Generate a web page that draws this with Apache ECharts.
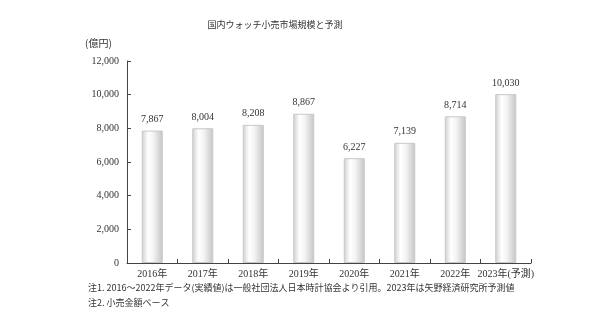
<!DOCTYPE html>
<html><head><meta charset="utf-8">
<script src="https://cdn.jsdelivr.net/npm/echarts@6/dist/echarts.min.js"></script>
<style>html,body{margin:0;padding:0;background:#fff}#c{width:600px;height:324px}</style>
</head><body><div id="c"></div>
<script>
const categories = ['2016年','2017年','2018年','2019年','2020年','2021年','2022年','2023年(予測)'];
const values = [7867, 8004, 8208, 8867, 6227, 7139, 8714, 10030];
const yTicks = [0, 2000, 4000, 6000, 8000, 10000, 12000];
const titleText = '国内ウォッチ小売市場規模と予測';
const unitText = '(億円)';
const notes = ['注1. 2016～2022年データ(実績値)は一般社団法人日本時計協会より引用。2023年は矢野経済研究所予測値', '注2. 小売金額ベース'];

const serif = '"Liberation Serif","Noto Sans CJK JP",serif';
const sans = '"Noto Sans CJK JP",sans-serif';
const chart = echarts.init(document.getElementById('c'), null, {renderer:'canvas'});
chart.setOption({
  animation:false,
  title:{text:titleText, left:270, top:15, textAlign:'center', textStyle:{fontFamily:sans, fontSize:9, fontWeight:'normal', color:'#333'}},
  graphic:[
    {type:'text', left:85, top:38, style:{text:unitText, font:'10px '+sans, fill:'#333'}},
    {type:'text', left:88, top:283, style:{text:notes[0], font:'9px '+sans, fill:'#333'}},
    {type:'text', left:88, top:298, style:{text:notes[1], font:'9px '+sans, fill:'#333'}}
  ],
  grid:{left:127, right:69, top:61, bottom:61},
  xAxis:{type:'category', data:categories,
    axisLine:{lineStyle:{color:'#444', width:1}},
    axisTick:{show:true, alignWithLabel:false, length:4, inside:true, lineStyle:{color:'#444'}},
    axisLabel:{fontFamily:serif, fontSize:10, color:'#333', margin:6, interval:0}},
  yAxis:{type:'value', min:0, max:12000, interval:2000,
    axisLine:{show:true, lineStyle:{color:'#444'}},
    axisTick:{show:true, inside:true, length:4, lineStyle:{color:'#444'}},
    splitLine:{show:false},
    axisLabel:{fontFamily:serif, fontSize:10, color:'#333', margin:8,
      formatter:v=>yTicks.includes(v)?v.toLocaleString('en-US'):''}},
  series:[{type:'bar', data:values, barWidth:21,
    itemStyle:{borderColor:'#c8c8c8', borderWidth:1,
      color:new echarts.graphic.LinearGradient(0,0,1,0,[
        {offset:0,color:'#cfcfcf'},{offset:0.3,color:'#ffffff'},{offset:0.55,color:'#f4f4f4'},{offset:1,color:'#c4c4c4'}])},
    label:{show:true, position:'top', distance:6, fontFamily:serif, fontSize:10, color:'#333',
      formatter:p=>p.value.toLocaleString('en-US')}}]
});
</script></body></html>
